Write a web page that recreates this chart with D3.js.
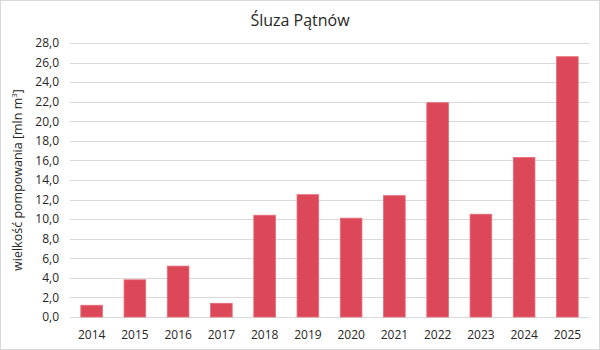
<!DOCTYPE html>
<html>
<head>
<meta charset="utf-8">
<script src="https://cdn.jsdelivr.net/npm/d3@7"></script>
<style>
  body { margin: 0; background: #fff; }
  text { font-family: "Open Sans", "Liberation Sans", sans-serif; fill: #262626; }
</style>
</head>
<body>
<script>
// dane
const years = ["2014", "2015", "2016", "2017", "2018", "2019", "2020", "2021", "2022", "2023", "2024", "2025"];
const values = [1.2, 3.8, 5.2, 1.4, 10.4, 12.5, 10.1, 12.4, 21.9, 10.5, 16.3, 26.6];
const yTicks = [0, 2, 4, 6, 8, 10, 12, 14, 16, 18, 20, 22, 24, 26, 28];

const W = 600, H = 350;
const margin = { top: 43, right: 11, bottom: 33, left: 70 };

const svg = d3.select("body")
    .append("svg")
    .attr("width", W)
    .attr("height", H);

svg.append("rect")
    .attr("x", 0.5).attr("y", 0.5)
    .attr("width", W - 1).attr("height", H - 1)
    .attr("fill", "#fff")
    .attr("stroke", "#d9d9d9");

const x = d3.scaleBand()
    .domain(years)
    .range([margin.left, W - margin.right])
    .paddingInner(0.5)
    .paddingOuter(0.25);

const y = d3.scaleLinear()
    .domain([0, 28])
    .range([H - margin.bottom, margin.top]);

const fmt = d => d.toFixed(1).replace(".", ",");

// siatka
svg.append("g")
    .selectAll("line")
    .data(yTicks)
    .join("line")
    .attr("x1", margin.left)
    .attr("x2", W - margin.right)
    .attr("y1", d => Math.round(y(d)) + 0.5)
    .attr("y2", d => Math.round(y(d)) + 0.5)
    .attr("stroke", "#d9d9d9");

// oś Y
const yAxis = svg.append("g")
    .attr("transform", `translate(${margin.left - 8},0)`)
    .call(d3.axisLeft(y).tickValues(yTicks).tickFormat(fmt).tickSize(0));
yAxis.select(".domain").remove();
yAxis.selectAll("text").attr("font-size", 12).attr("fill", "#262626");

// oś X
const xAxis = svg.append("g")
    .attr("transform", `translate(0,${H - margin.bottom + 10})`)
    .call(d3.axisBottom(x).tickSize(0));
xAxis.select(".domain").remove();
xAxis.selectAll("text").attr("font-size", 12).attr("fill", "#262626");

// słupki
svg.append("g")
    .selectAll("rect")
    .data(values)
    .join("rect")
    .attr("x", (d, i) => x(years[i]))
    .attr("y", d => y(d))
    .attr("width", x.bandwidth())
    .attr("height", d => y(0) - y(d))
    .attr("fill", "#dc4858")
    .attr("stroke", "#e66b78")
    .attr("stroke-width", 0.8);

// tytuł
svg.append("text")
    .attr("x", W / 2)
    .attr("y", 26)
    .attr("text-anchor", "middle")
    .attr("font-size", 16)
    .text("Śluza Pątnów");

// tytuł osi Y
const yt = svg.append("text")
    .attr("transform", `translate(22,${(margin.top + H - margin.bottom) / 2}) rotate(-90)`)
    .attr("text-anchor", "middle")
    .attr("font-size", 12.5);
yt.append("tspan").text("wielkość pompowania  [mln m");
yt.append("tspan").attr("font-size", 8).attr("dy", -5).text("3");
yt.append("tspan").attr("dy", 5).text("]");
</script>
</body>
</html>
